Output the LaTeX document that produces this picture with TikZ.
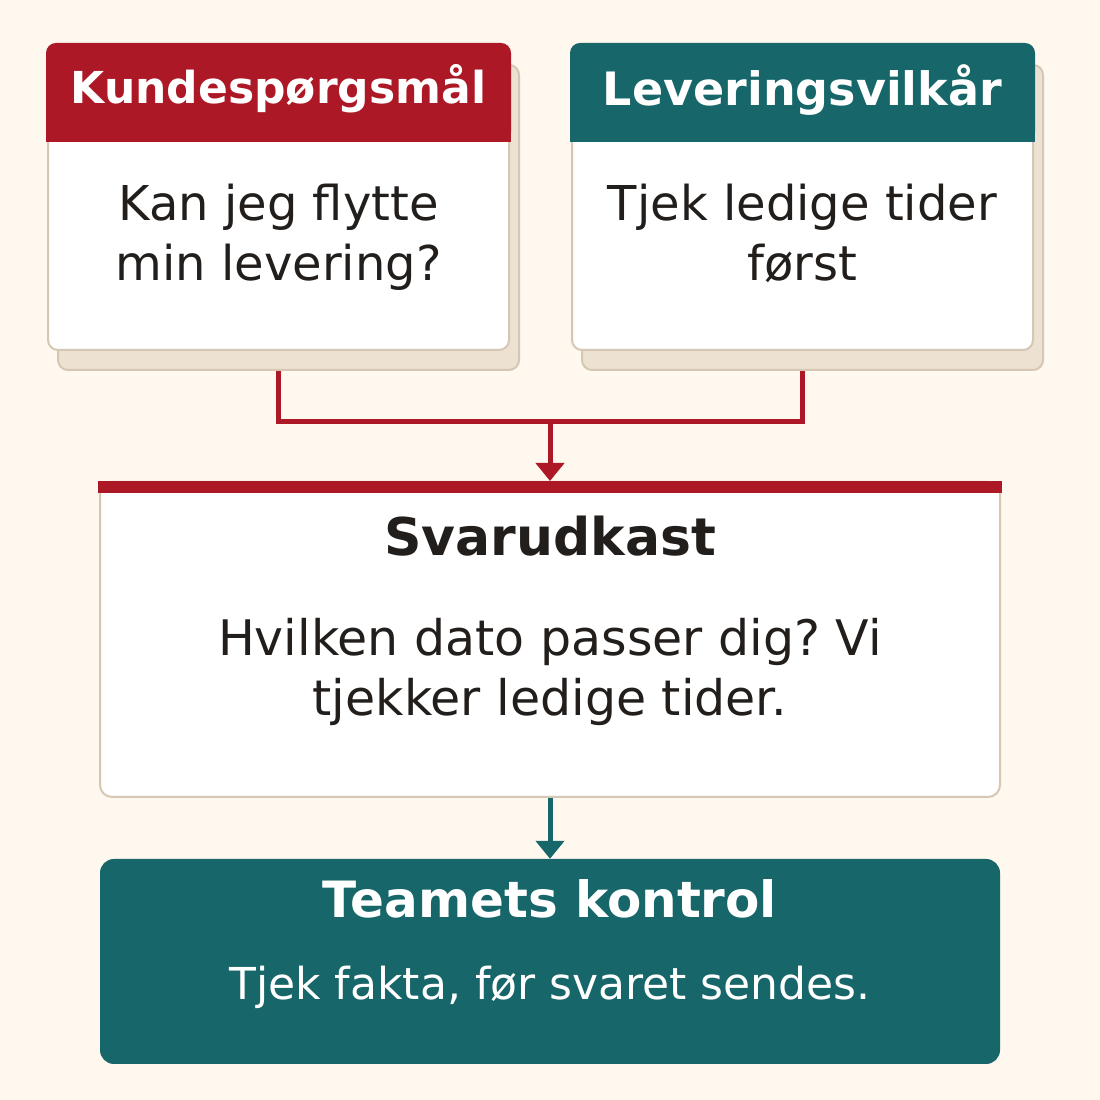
\documentclass[tikz,border=0pt]{standalone}
\usepackage{fontspec}
\setmainfont{DejaVu Sans}
\usetikzlibrary{positioning, arrows.meta, calc}
\frenchspacing

\definecolor{bgcream}{HTML}{FEF8EF}
\definecolor{askred}{HTML}{AD1826}
\definecolor{termteal}{HTML}{17666A}
\definecolor{shadowbeige}{HTML}{EDE1D2}
\definecolor{cardline}{HTML}{D6C7B5}
\definecolor{inkdark}{HTML}{221E1C}

\begin{document}
\begin{tikzpicture}[
    x=1pt, y=1pt,
    >={Triangle[width=28pt,length=18pt]},
    every node/.style={inner sep=0pt},
    card/.style={rectangle, draw=cardline, line width=2pt, fill=white, rounded corners=10pt, minimum width=461pt, minimum height=305pt},
    cardshadow/.style={card, fill=shadowbeige},
    draftbox/.style={rectangle, draw=cardline, line width=2pt, fill=white, rounded corners=12pt, minimum width=900pt, minimum height=315pt},
    checkbox/.style={rectangle, fill=termteal, rounded corners=14pt, minimum width=900pt, minimum height=205pt},
    headtext/.style={anchor=base, text=white, font=\fontsize{44}{52}\selectfont\bfseries},
    bodytext/.style={anchor=base, text=inkdark, font=\fontsize{48}{60}\selectfont},
    redline/.style={draw=askred, line width=5pt},
    tealline/.style={draw=termteal, line width=5pt}
]

% Canvas
\fill[bgcream] (0,0) rectangle (1100,1100);
\useasboundingbox (0,0) rectangle (1100,1100);

% Question card
\node[cardshadow] (askshadow) at (288.5,882.5) {};
\node[card] (ask) at (278.5,902.5) {};
\fill[askred, rounded corners=10pt] ([shift={(-1pt,1pt)}]ask.north west) rectangle ([shift={(1pt,-98pt)}]ask.north east);
\fill[askred] ([shift={(-1pt,-86pt)}]ask.north west) rectangle ([shift={(1pt,-98pt)}]ask.north east);
\node[headtext] (askhead) at ([yshift=-60pt]ask.north) {Kundespørgsmål};
\node[bodytext] (ask1) at ([yshift=-177pt]ask.north) {Kan jeg flytte};
\node[bodytext] (ask2) at ([yshift=-237pt]ask.north) {min levering?};

% Terms card
\node[cardshadow] (termshadow) at (812.5,882.5) {};
\node[card] (term) at (802.5,902.5) {};
\fill[termteal, rounded corners=10pt] ([shift={(-1pt,1pt)}]term.north west) rectangle ([shift={(1pt,-98pt)}]term.north east);
\fill[termteal] ([shift={(-1pt,-86pt)}]term.north west) rectangle ([shift={(1pt,-98pt)}]term.north east);
\node[headtext, font=\fontsize{46}{54}\selectfont\bfseries] (termhead) at ([yshift=-62pt]term.north) {Leveringsvilkår};
\node[bodytext] (term1) at ([yshift=-177pt]term.north) {Tjek ledige tider};
\node[bodytext] (term2) at ([yshift=-237pt]term.north) {først};

% Draft reply
\node[draftbox] (draft) at (550,460.5) {};
\fill[askred] ([shift={(-1pt,0pt)}]draft.north west) rectangle ([shift={(1pt,-12pt)}]draft.north east);
\node[bodytext, font=\fontsize{52}{60}\selectfont\bfseries] (drafthead) at ([yshift=-75pt]draft.north) {Svarudkast};
\node[bodytext, font=\fontsize{49}{60}\selectfont] (draft1) at ([yshift=-175pt]draft.north) {Hvilken dato passer dig? Vi};
\node[bodytext, font=\fontsize{49}{60}\selectfont] (draft2) at ([yshift=-235pt]draft.north) {tjekker ledige tider.};

% Team check
\node[checkbox] (check) at (550,138.5) {};
\node[headtext, font=\fontsize{50}{58}\selectfont\bfseries] (checkhead) at ([yshift=-59pt]check.north) {Teamets kontrol};
\node[anchor=base, text=white, font=\fontsize{44}{52}\selectfont] (check1) at ([yshift=-141pt]check.north) {Tjek fakta, før svaret sendes.};

% Connectors
\coordinate (join) at (550,678);
\draw[redline] (ask.south |- askshadow.south) |- (join) -| (term.south |- termshadow.south);
\draw[redline, ->] (join) -- (draft.north);
\draw[tealline, ->] (draft.south) -- (check.north);

\end{tikzpicture}
\end{document}
